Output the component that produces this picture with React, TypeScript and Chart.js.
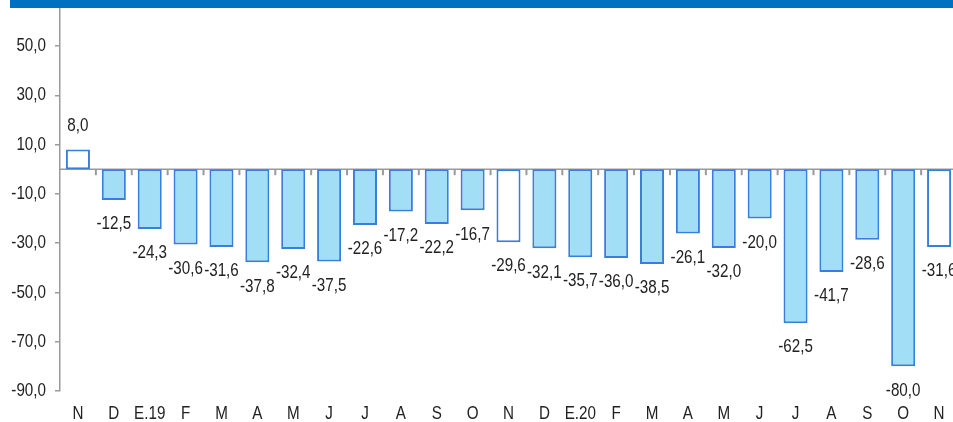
import React, { useEffect, useRef } from "react";
import { Chart, registerables } from "chart.js";

Chart.register(...registerables);

const CATEGORIES = ["N", "D", "E.19", "F", "M", "A", "M", "J", "J", "A", "S", "O", "N", "D", "E.20", "F", "M", "A", "M", "J", "J", "A", "S", "O", "N"];
const VALUES = [8.0, -12.5, -24.3, -30.6, -31.6, -37.8, -32.4, -37.5, -22.6, -17.2, -22.2, -16.7, -29.6, -32.1, -35.7, -36.0, -38.5, -26.1, -32.0, -20.0, -62.5, -41.7, -28.6, -80.0, -31.6];
const HOLLOW = [true, false, false, false, false, false, false, false, false, false, false, false, true, false, false, false, false, false, false, false, false, false, false, false, true];
const Y_TICKS = [-90, -70, -50, -30, -10, 10, 30, 50];
const Y_MIN = -90;
const Y_MAX = 65;

const FONT = "'Liberation Sans', Arial, sans-serif";
const FONT_SIZE = 19;
const NARROW = 0.8;
const FILL = "#A2DEF5";
const BORDER = "#3A7EDC";
const AXIS_GRAY = "#9a9a9a";
const TEXT = "#222222";

const fmt = (v: number) => v.toFixed(1).replace(".", ",");

function narrowText(ctx: CanvasRenderingContext2D, text: string, x: number, y: number, align: CanvasTextAlign) {
  ctx.save();
  ctx.translate(x, y);
  ctx.scale(NARROW, 1);
  ctx.textAlign = align;
  ctx.fillText(text, 0, 0);
  ctx.restore();
}

const decorPlugin = {
  id: "decor",
  beforeDatasetsDraw(chart: any) {
    const { ctx, chartArea, scales } = chart;
    const y0 = scales.y.getPixelForValue(0);
    const xs = scales.x;
    ctx.save();
    ctx.strokeStyle = AXIS_GRAY;
    ctx.lineWidth = 1.5;
    ctx.beginPath();
    ctx.moveTo(chartArea.left, y0);
    ctx.lineTo(chartArea.right, y0);
    ctx.stroke();
    ctx.lineWidth = 2;
    for (let i = 1; i < CATEGORIES.length; i++) {
      const x = (xs.getPixelForValue(i - 1) + xs.getPixelForValue(i)) / 2;
      ctx.beginPath();
      ctx.moveTo(x, y0);
      ctx.lineTo(x, y0 + 6);
      ctx.stroke();
    }
    ctx.restore();
  },
  afterDraw(chart: any) {
    const { ctx, scales, chartArea } = chart;
    const meta = chart.getDatasetMeta(0);
    ctx.save();
    ctx.font = `${FONT_SIZE}px ${FONT}`;
    ctx.fillStyle = TEXT;
    ctx.textBaseline = "middle";
    // data labels
    meta.data.forEach((bar: any, i: number) => {
      const v = VALUES[i];
      const y = v < 0 ? bar.y + 24 : bar.y - 24;
      narrowText(ctx, fmt(v), bar.x, y, "center");
    });
    // y tick labels
    Y_TICKS.forEach((t) => {
      narrowText(ctx, fmt(t), chartArea.left - 14, scales.y.getPixelForValue(t), "right");
    });
    // x tick labels
    CATEGORIES.forEach((c, i) => {
      narrowText(ctx, c, scales.x.getPixelForValue(i), chartArea.bottom + 23, "center");
    });
    ctx.restore();
  },
};

export default function App() {
  const ref = useRef<HTMLCanvasElement | null>(null);
  useEffect(() => {
    if (!ref.current) return;
    const chart = new Chart(ref.current, {
      type: "bar",
      data: {
        labels: CATEGORIES,
        datasets: [
          {
            data: VALUES,
            backgroundColor: HOLLOW.map((h) => (h ? "#ffffff" : FILL)),
            borderColor: BORDER,
            borderWidth: 2,
            borderSkipped: false,
            categoryPercentage: 1,
            barPercentage: 0.67,
          },
        ],
      },
      options: {
        animation: false,
        responsive: false,
        maintainAspectRatio: false,
        layout: { padding: { top: 9, right: 0, left: 0, bottom: 0 } },
        plugins: { legend: { display: false }, tooltip: { enabled: false } },
        scales: {
          x: {
            grid: { display: false },
            border: { display: false },
            ticks: { display: false, autoSkip: false },
            afterFit: (s: any) => {
              s.height = 31;
            },
          },
          y: {
            min: Y_MIN,
            max: Y_MAX,
            afterBuildTicks: (s: any) => {
              s.ticks = Y_TICKS.map((v) => ({ value: v }));
            },
            grid: { drawOnChartArea: false, color: AXIS_GRAY, tickLength: 5, lineWidth: 1.5 },
            border: { color: AXIS_GRAY, width: 1.5 },
            ticks: { display: false },
            afterFit: (s: any) => {
              s.width = 60;
              s.paddingTop = 0;
              s.paddingBottom = 0;
            },
          },
        },
      },
      plugins: [decorPlugin],
    });
    return () => chart.destroy();
  }, []);
  return (
    <div style={{ position: "fixed", left: 0, top: 0, width: 953, height: 422, overflow: "hidden", background: "#fff" }}>
      <canvas ref={ref} width={957} height={422} style={{ position: "absolute", left: 0, top: 0, width: 957, height: 422 }} />
      <div style={{ position: "absolute", left: 10, top: 0, width: 943, height: 8, background: "#0070C0" }} />
    </div>
  );
}
